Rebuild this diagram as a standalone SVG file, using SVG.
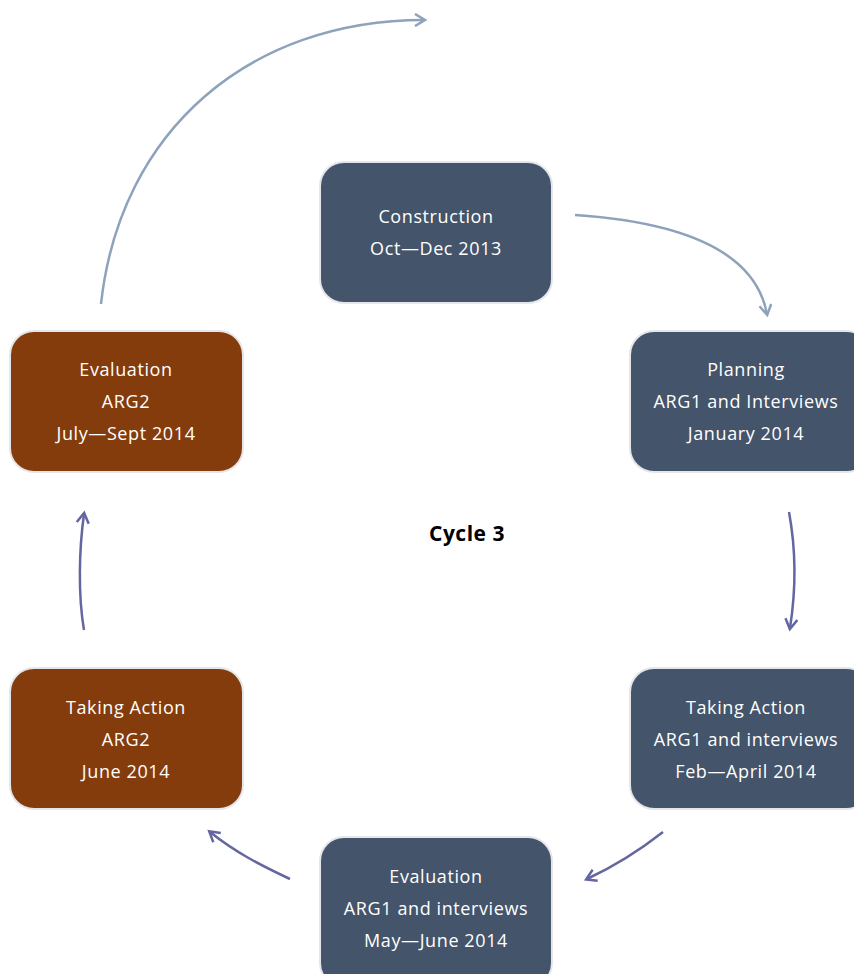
<svg xmlns="http://www.w3.org/2000/svg" width="854" height="974" viewBox="0 0 854 974">
  <style>
    .box { stroke: #e4e6ea; stroke-width: 2; }
    .blue { fill: #44546a; }
    .brown { fill: #843c0c; }
    .lbl { font-family: "Open Sans", "Liberation Sans", sans-serif; font-size: 18px; letter-spacing: 0.6px; fill: #ffffff; text-anchor: middle; }
    .title { font-family: "Open Sans", "Liberation Sans", sans-serif; font-size: 21px; letter-spacing: 0.5px; font-weight: bold; fill: #000000; text-anchor: middle; }
    .c-light { fill: none; stroke: #8ea2bb; stroke-width: 2.5; }
    .c-dark { fill: none; stroke: #6466a0; stroke-width: 2.5; }
  </style>
  <defs>
    <marker id="headLight" markerWidth="14" markerHeight="14" refX="10" refY="7" orient="auto" markerUnits="userSpaceOnUse">
      <path d="M1,1 L11,7 L1,13" fill="none" stroke="#8ea2bb" stroke-width="2.5"/>
    </marker>
    <marker id="headDark" markerWidth="14" markerHeight="14" refX="10" refY="7" orient="auto" markerUnits="userSpaceOnUse">
      <path d="M1,1 L11,7 L1,13" fill="none" stroke="#6466a0" stroke-width="2.5"/>
    </marker>
  </defs>

  <rect width="854" height="974" fill="#ffffff"/>

  <g id="connectors">
    <path class="c-light" d="M101,304 C120,130 250,20 424,20" marker-end="url(#headLight)"/>
    <path class="c-light" d="M575,215 C680,222 755,250 767,314" marker-end="url(#headLight)"/>
    <path class="c-dark" d="M789,512 C796,550 796,590 790,628" marker-end="url(#headDark)"/>
    <path class="c-dark" d="M663,832 C640,850 615,866 587,879" marker-end="url(#headDark)"/>
    <path class="c-dark" d="M290,879 C260,865 235,852 210,832" marker-end="url(#headDark)"/>
    <path class="c-dark" d="M84,630 C78,595 79,550 84,514" marker-end="url(#headDark)"/>
  </g>

  <g id="construction">
    <rect class="box blue" x="320" y="162" width="232" height="141" rx="24"/>
    <text class="lbl" x="436" y="223">Construction</text>
    <text class="lbl" x="436" y="255">Oct—Dec 2013</text>
  </g>

  <g id="planning">
    <rect class="box blue" x="630" y="331" width="240" height="141" rx="24"/>
    <text class="lbl" x="746" y="376">Planning</text>
    <text class="lbl" x="746" y="408">ARG1 and Interviews</text>
    <text class="lbl" x="746" y="440">January 2014</text>
  </g>

  <g id="taking-action-arg1">
    <rect class="box blue" x="630" y="668" width="240" height="141" rx="24"/>
    <text class="lbl" x="746" y="714">Taking Action</text>
    <text class="lbl" x="746" y="746">ARG1 and interviews</text>
    <text class="lbl" x="746" y="778">Feb—April 2014</text>
  </g>

  <g id="evaluation-arg1">
    <rect class="box blue" x="320" y="837" width="232" height="150" rx="24"/>
    <text class="lbl" x="436" y="883">Evaluation</text>
    <text class="lbl" x="436" y="915">ARG1 and interviews</text>
    <text class="lbl" x="436" y="947">May—June 2014</text>
  </g>

  <g id="taking-action-arg2">
    <rect class="box brown" x="10" y="668" width="233" height="141" rx="24"/>
    <text class="lbl" x="126" y="714">Taking Action</text>
    <text class="lbl" x="126" y="746">ARG2</text>
    <text class="lbl" x="126" y="778">June 2014</text>
  </g>

  <g id="evaluation-arg2">
    <rect class="box brown" x="10" y="331" width="233" height="141" rx="24"/>
    <text class="lbl" x="126" y="376">Evaluation</text>
    <text class="lbl" x="126" y="408">ARG2</text>
    <text class="lbl" x="126" y="440">July—Sept 2014</text>
  </g>

  <g id="cycle-label">
    <text class="title" x="467" y="541">Cycle 3</text>
  </g>
</svg>
